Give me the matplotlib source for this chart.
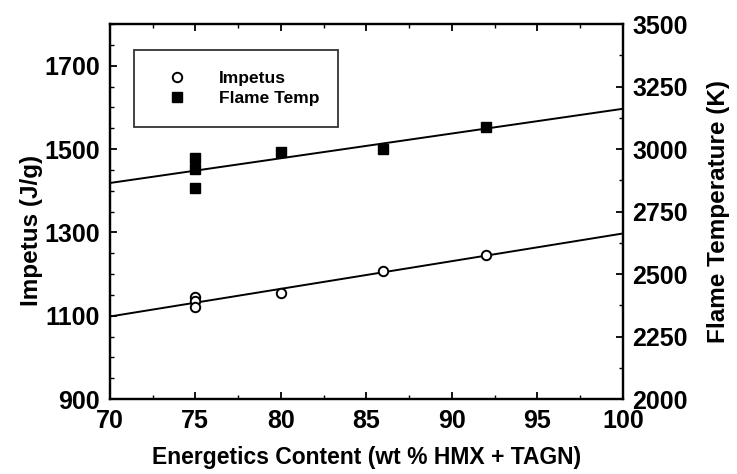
import numpy as np
import matplotlib
matplotlib.use("Agg")
import matplotlib.pyplot as plt
from matplotlib.ticker import MultipleLocator

# Energetics content (wt % HMX + TAGN) of each formulation
content = [75, 75, 75, 80, 86, 92]
# Measured impetus (J/g)
impetus = [1145, 1135, 1120, 1155, 1208, 1245]
# Adiabatic flame temperature (K)
flame_temp = [2965, 2921, 2846, 2989, 3001, 3089]

x_ticks = [70, 75, 80, 85, 90, 95, 100]
impetus_ticks = [900, 1100, 1300, 1500, 1700]
temp_ticks = [2000, 2250, 2500, 2750, 3000, 3250, 3500]

plt.rcParams["font.family"] = ["Liberation Sans", "DejaVu Sans"]

fig = plt.figure(figsize=(7.37, 4.74), dpi=100)
ax = fig.add_axes([0.149, 0.158, 0.696, 0.791])
ax2 = ax.twinx()

x = np.asarray(content, dtype=float)
xfit = np.array([70.0, 100.0])

# least-squares trend lines
p_imp = np.polyfit(x, impetus, 1)
p_tmp = np.polyfit(x, flame_temp, 1)

ax.plot(xfit, np.polyval(p_imp, xfit), color="black", lw=1.4, zorder=2)
h_imp, = ax.plot(x, impetus, linestyle="none", marker="o", ms=6.8,
                 mfc="white", mec="black", mew=1.4, zorder=3, label="Impetus")

ax2.plot(xfit, np.polyval(p_tmp, xfit), color="black", lw=1.4, zorder=2)
h_tmp, = ax2.plot(x, flame_temp, linestyle="none", marker="s", ms=7,
                  mfc="black", mec="black", zorder=3, label="Flame Temp")

ax.set_xlim(70, 100)
ax.set_ylim(900, 1800)
ax2.set_ylim(2000, 3500)

ax.set_xticks(x_ticks)
ax.set_xticklabels([str(t) for t in x_ticks])
ax.set_yticks(impetus_ticks)
ax.set_yticklabels([str(t) for t in impetus_ticks])
ax2.set_yticks(temp_ticks)
ax2.set_yticklabels([str(t) for t in temp_ticks])

ax.xaxis.set_minor_locator(MultipleLocator(2.5))
ax.yaxis.set_minor_locator(MultipleLocator(50))
ax2.yaxis.set_minor_locator(MultipleLocator(125))

for lab in ax.get_xticklabels() + ax.get_yticklabels() + ax2.get_yticklabels():
    lab.set_fontsize(18)
    lab.set_fontweight("bold")

ax.tick_params(axis="x", which="both", direction="in", top=True, bottom=True, pad=7)
ax.tick_params(axis="y", which="both", direction="in", left=True, right=False, pad=7)
ax2.tick_params(axis="y", which="both", direction="in", right=True, left=False, pad=7)
for a in (ax, ax2):
    a.tick_params(which="major", length=5, width=1.3)
    a.tick_params(which="minor", length=3, width=1.0)
    for s in a.spines.values():
        s.set_linewidth(1.6)

ax.set_xlabel("Energetics Content (wt % HMX + TAGN)", fontsize=16.5,
              fontweight="bold")
ax.xaxis.label.set_va("center")
ax.xaxis.set_label_coords(0.5, -0.155)

ax.set_ylabel("Impetus (J/g)", fontsize=17.5, fontweight="bold")
ax.yaxis.label.set_va("center")
ax.yaxis.set_label_coords(-0.152, 0.45)

ax2.set_ylabel("Flame Temperature (K)", fontsize=17.5, fontweight="bold")
ax2.yaxis.label.set_va("center")
ax2.yaxis.set_label_coords(1.187, 0.5)

leg = ax.legend(handles=[h_imp, h_tmp], loc="upper left",
                bbox_to_anchor=(0.047, 0.931, 0.397, 0.0), mode="expand",
                frameon=True, fancybox=False, edgecolor="black",
                prop=dict(size=12.5, weight="bold"), borderpad=1.2,
                labelspacing=0.3, handlelength=2.6, handletextpad=1.1,
                numpoints=1, borderaxespad=0.0)
leg.get_frame().set_linewidth(1.3)
leg.set_zorder(5)

fig.savefig("out.png", dpi=100)
